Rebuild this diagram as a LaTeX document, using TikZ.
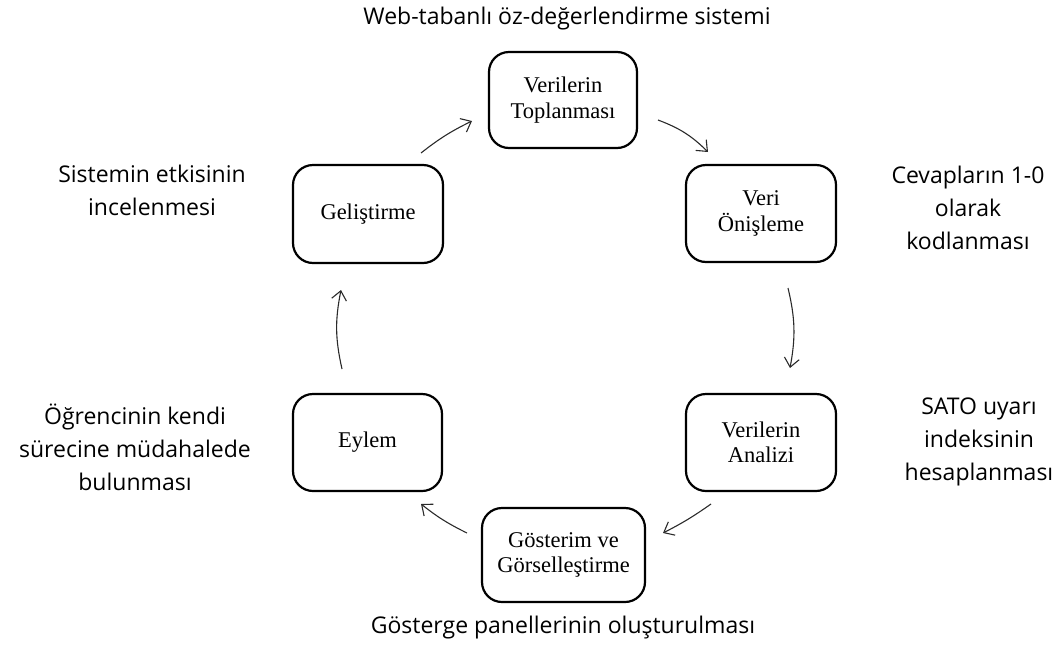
\documentclass[tikz,border=0pt]{standalone}
\usepackage{fontspec}
\setmainfont{Liberation Serif}
\newfontfamily\osans{Open Sans}
\usetikzlibrary{arrows.meta}
\definecolor{arrowgray}{HTML}{2A2A2A}
\tikzset{
  stagebox/.style={draw=black, line width=2.2pt, rounded corners=20pt, fill=white,
    inner sep=0pt, align=center, font=\fontsize{22.5}{25.5}\selectfont},
  note/.style={align=center, inner sep=0pt, font=\osans\fontsize{23}{33}\selectfont},
  flow/.style={draw=arrowgray, line width=1.1pt, bend left=12,
    -{Straight Barb[length=9pt,width=15pt,line width=1.1pt]}}
}
\begin{document}
\begin{tikzpicture}[x=1pt,y=-1pt]
\useasboundingbox (0,0) rectangle (1058,646);
% boxes
\node[stagebox, minimum width=148pt, minimum height=96pt] (top) at (563,100) {Verilerin\\Toplanması};
\node[stagebox, minimum width=150pt, minimum height=97pt] (veri) at (761,213.5) {Veri\\Önişleme};
\node[stagebox, minimum width=150pt, minimum height=97pt] (analiz) at (761,442.5) {Verilerin\\Analizi};
\node[stagebox, minimum width=163pt, minimum height=94pt] (gost) at (563.5,555) {Gösterim ve\\Görselleştirme};
\node[stagebox, minimum width=149pt, minimum height=97pt] (eylem) at (367.5,442.5) {Eylem};
\node[stagebox, minimum width=150pt, minimum height=98pt] (gelis) at (368,214) {Geliştirme};
% notes
\node[note] (n1) at (567,19) {Web-tabanlı öz-değerlendirme sistemi};
\node[note] (n2) at (968,207.5) {Cevapların 1-0\\olarak\\kodlanması};
\node[note] (n3) at (979,442) {SATO uyarı\\indeksinin\\hesaplanması};
\node[note] (n4) at (563,628) {Gösterge panellerinin oluşturulması};
\node[note] (n5) at (135,447) {Öğrencinin kendi\\sürecine müdahalede\\bulunması};
\node[note] (n6) at (152,190) {Sistemin etkisinin\\incelenmesi};
% arrow end points
\coordinate (a1s) at (658,120); \coordinate (a1e) at (708,152);
\coordinate (a2s) at (788,288); \coordinate (a2e) at (790,368);
\coordinate (a3s) at (711,504); \coordinate (a3e) at (663,533);
\coordinate (a4s) at (467,533); \coordinate (a4e) at (421,504);
\coordinate (a5s) at (342,369); \coordinate (a5e) at (341,290);
\coordinate (a6s) at (421,153); \coordinate (a6e) at (472,121);
\draw[flow] (a1s) to (a1e);
\draw[flow] (a2s) to (a2e);
\draw[flow, bend left=4] (a3s) to (a3e);
\draw[flow, bend left=6] (a4s) to (a4e);
\draw[flow] (a5s) to (a5e);
\draw[flow, bend left=6] (a6s) to (a6e);
\end{tikzpicture}
\end{document}
